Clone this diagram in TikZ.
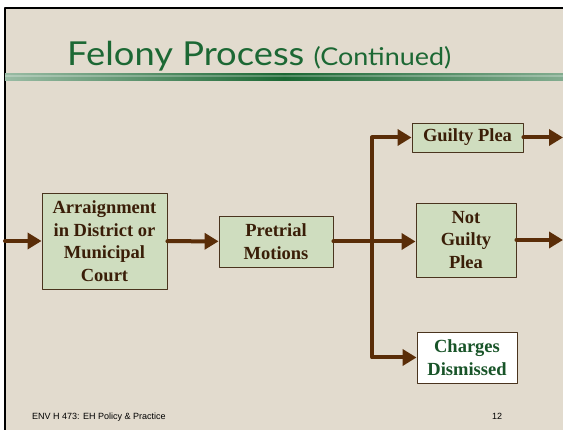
\documentclass[tikz,border=0pt]{standalone}
\usepackage{fontspec}
\setmainfont{Liberation Serif}
\newfontfamily\titlefont[FakeStretch=1.1]{Lato}
\newfontfamily\footfont{Liberation Sans}
\usepackage{tikz}
\usetikzlibrary{arrows.meta,positioning}
\definecolor{slidebg}{RGB}{226,219,206}
\definecolor{titlegreen}{RGB}{28,104,52}
\definecolor{boxgreen}{RGB}{207,221,191}
\definecolor{boxline}{RGB}{74,52,30}
\definecolor{boxtext}{RGB}{58,30,8}
\definecolor{flow}{RGB}{90,45,8}
\definecolor{dismissgreen}{RGB}{24,84,40}
\tikzset{
  stagebox/.style={draw=boxline,line width=0.9pt,fill=boxgreen,text=boxtext,align=center,
    font=\bfseries\fontsize{18.5}{22.6}\selectfont,inner sep=0pt},
  endbox/.style={stagebox,fill=white,text=dismissgreen},
  flowline/.style={draw=flow,line width=4pt,->}
}

\begin{document}
\begin{tikzpicture}[line cap=round,line join=round,>={Triangle[length=14pt,width=16pt]},x=1pt,y=-1pt]
\useasboundingbox (0,0) rectangle (563,430);
\fill[white] (0,0) rectangle (563,430);
\fill[slidebg] (5,8) rectangle (563,430);
\draw[black,line width=1.5pt,line cap=butt] (5,430) -- (5,8) -- (563,8);
\shade[left color=titlegreen!45,right color=titlegreen!55,middle color=titlegreen] (5,73.5) rectangle (563,80.5);
\fill[white,opacity=0.25] (5,75.5) rectangle (563,77.5);
\node[anchor=base west,inner sep=0pt,text=titlegreen,font=\titlefont\fontsize{33}{36}\selectfont] (title) at (67,65.5)
  {Felony Process {\fontsize{24.5}{26}\selectfont (Continued)}};

\node[stagebox,minimum width=125pt,minimum height=96pt] (arraign) at (104.5,241) {Arraignment\\in District or\\Municipal\\Court};
\node[stagebox,minimum width=114pt,minimum height=51pt] (pretrial) at (276,241.5) {Pretrial\\Motions};
\node[stagebox,minimum width=111pt,minimum height=29pt] (guilty) at (467.5,137.5) {Guilty Plea};
\node[stagebox,minimum width=100pt,minimum height=74pt] (notguilty) at (466,240) {Not\\Guilty\\Plea};
\node[endbox,minimum width=100pt,minimum height=51pt] (dismissed) at (467,357.5) {Charges\\Dismissed};

\coordinate (in) at (5,241);
\coordinate (split) at (372,241);
\coordinate (outg) at (563,137.5);
\coordinate (outn) at (563,240);

\draw[flowline] (in) -- (arraign);
\draw[flowline] (arraign) -- (pretrial);
\draw[flowline] (pretrial.east) -- (notguilty.west |- pretrial.east);
\draw[flowline] (split) |- (guilty);
\draw[flowline] (split) |- (dismissed);
\draw[flowline] (guilty) -- (outg);
\draw[flowline] (notguilty) -- (outn);

\node[anchor=base west,inner sep=0pt,font=\footfont\fontsize{9}{11}\selectfont] (course) at (32,420) {ENV H 473: EH Policy \& Practice};
\node[anchor=base west,inner sep=0pt,font=\footfont\fontsize{9}{11}\selectfont] (page) at (492,420) {12};
\end{tikzpicture}
\end{document}
